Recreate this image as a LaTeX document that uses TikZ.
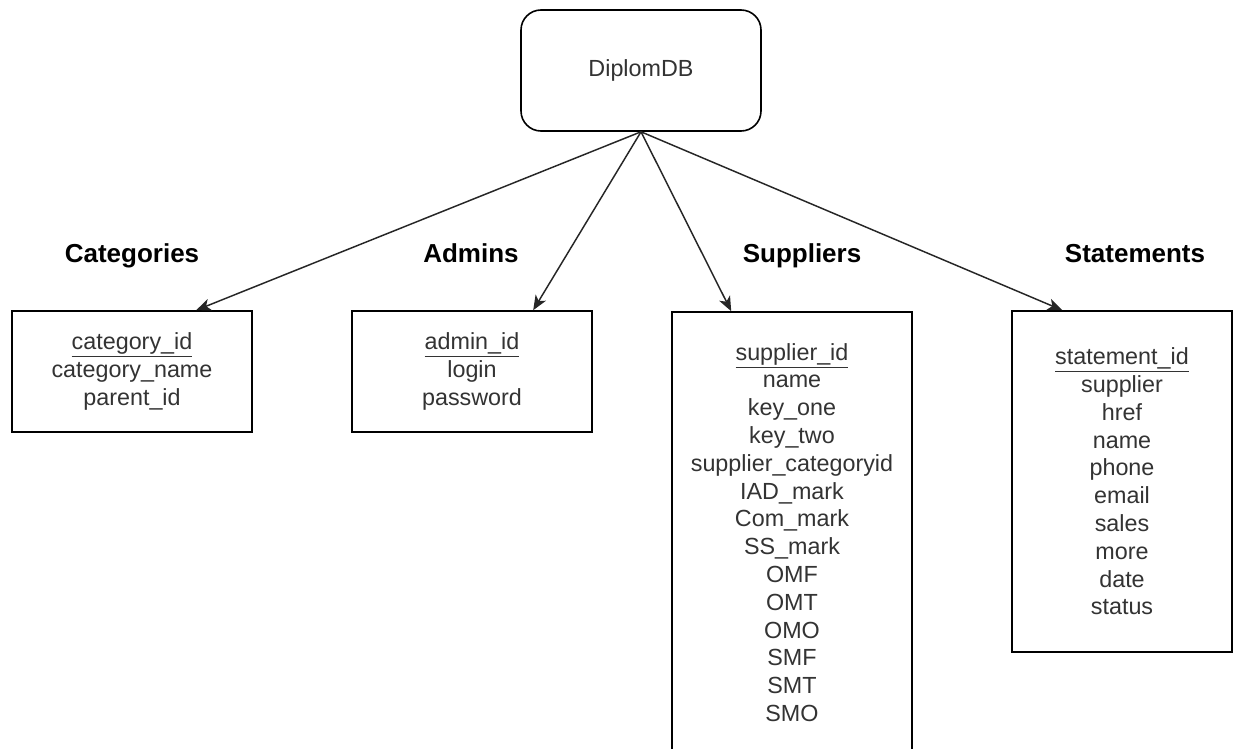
\documentclass[tikz,border=0pt]{standalone}
\usepackage{fontspec}
\setmainfont{Liberation Sans}
\usetikzlibrary{arrows.meta,calc}
\definecolor{txt}{HTML}{333333}
\tikzset{
  tbl/.style={draw=black, line width=1.2pt, fill=white, inner sep=0pt, align=center,
              text=txt, font=\fontsize{17.5}{20.85}\selectfont},
  ttl/.style={font=\fontsize{19.5}{23}\selectfont\bfseries, text=black, inner sep=0pt, anchor=base},
  arr/.style={-{Stealth[length=11pt,width=9pt,inset=3pt]}, line width=1.1pt, draw=black!85},
}
\begin{document}
\begin{tikzpicture}[x=0.75pt,y=-0.75pt]
\clip (0,0) rectangle (1235,749);
\fill[white] (0,0) rectangle (1235,749);
\node[tbl, rounded corners=15pt, minimum width=180pt, minimum height=90.75pt] (db) at (641,70.5) {DiplomDB};

\node[ttl] (tcat) at (132,262) {Categories};
\node[ttl] (tadm) at (471,262) {Admins};
\node[ttl] (tsup) at (802,262) {Suppliers};
\node[ttl] (tstm) at (1135,262) {Statements};

\node[tbl, minimum width=180pt, minimum height=90.75pt] (cat) at (132,371.5)
  {\underline{category\_id}\\category\_name\\parent\_id};
\node[tbl, minimum width=180pt, minimum height=90.75pt] (adm) at (472,371.5)
  {\underline{admin\_id}\\login\\password};
\node[tbl, minimum width=180pt, minimum height=330.75pt] (sup) at (792,532.5)
  {\underline{supplier\_id}\\name\\key\_one\\key\_two\\supplier\_categoryid\\IAD\_mark\\Com\_mark\\SS\_mark\\OMF\\OMT\\OMO\\SMF\\SMT\\SMO};
\node[tbl, minimum width=165pt, minimum height=255.75pt] (stm) at (1122,481.5)
  {\underline{statement\_id}\\supplier\\href\\name\\phone\\email\\sales\\more\\date\\status};

\draw[arr] (db.south) -- ($(cat.north west)+(185,0)$);
\draw[arr] (db.south) -- ($(adm.north west)+(182,0)$);
\draw[arr] (db.south) -- ($(sup.north west)+(60,0)$);
\draw[arr] (db.south) -- ($(stm.north west)+(51,0)$);
\end{tikzpicture}
\end{document}
